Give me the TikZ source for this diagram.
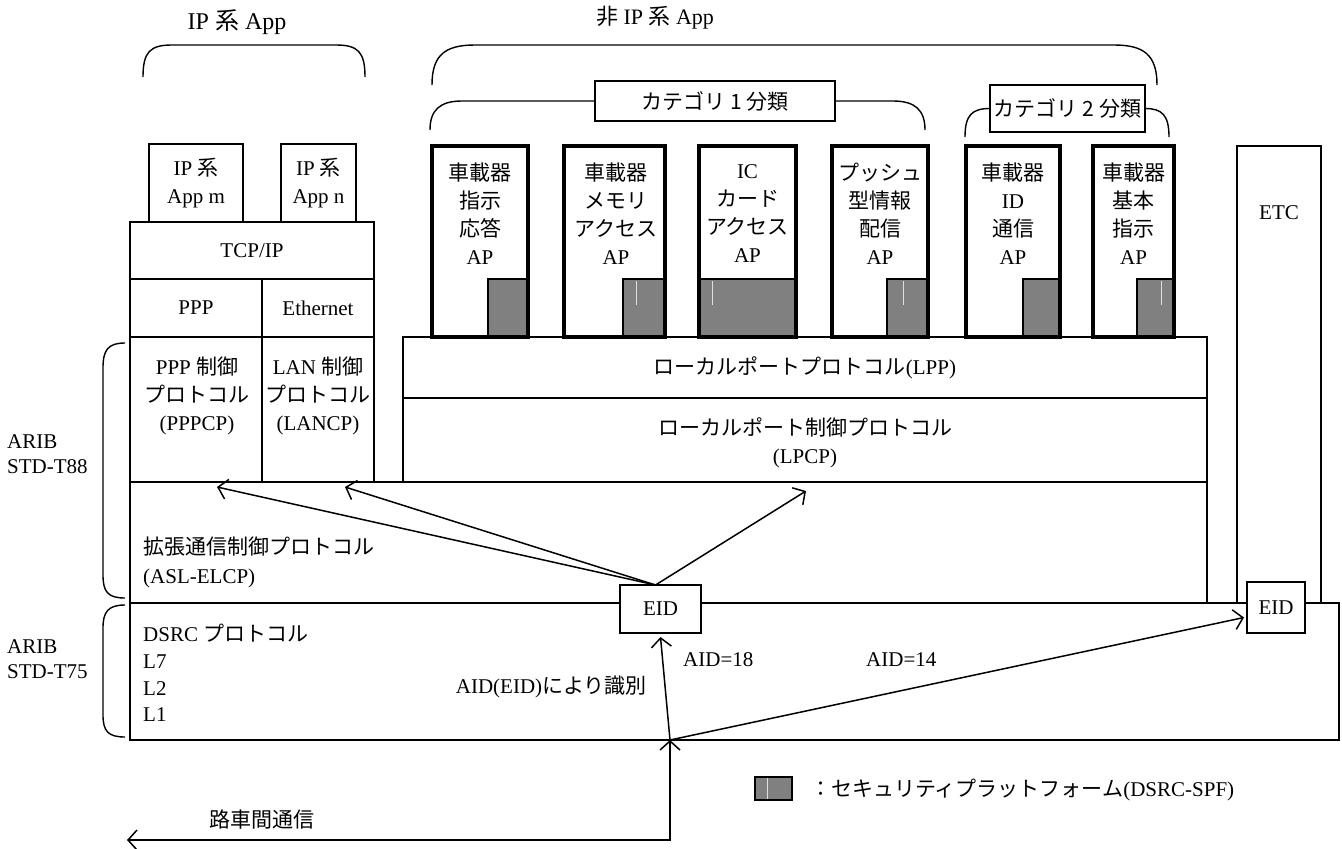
\documentclass[tikz,border=0pt]{standalone}
\usepackage{fontspec}
\setmainfont{Liberation Serif}
\newfontfamily\jp{Noto Sans CJK JP}
\usetikzlibrary{arrows.meta,calc}
\definecolor{spfgray}{RGB}{128,128,128}
\newcommand\mkbox[7]{\node[#6, minimum width={(#4-#2)*1pt}, minimum height={(#5-#3)*1pt}] (#1) at ({(#2+#4)/2},{(#3+#5)/2}) {#7};}
\begin{document}
\begin{tikzpicture}[x=1pt,y=-1pt, font=\fontsize{21}{28}\selectfont,
 bx/.style={draw, line width=1.5pt, fill=white, inner sep=0pt, outer sep=0pt, align=center},
 apb/.style={draw, line width=4pt, fill=white, inner sep=0pt, outer sep=0pt},
 spf/.style={draw, line width=1.5pt, fill=spfgray, inner sep=0pt, outer sep=0pt},
 lbl/.style={inner sep=0pt, align=center},
 lbll/.style={inner sep=0pt, align=left, anchor=west},
 brc/.style={line width=1.4pt},
 arr/.style={line width=1.5pt, -{Straight Barb[length=9pt,width=20pt]}},
 faint/.style={white!75!gray, line width=0.8pt}]
\useasboundingbox[fill=white] (0,0) rectangle (1342,849);

% big layers
\mkbox{asl}{130}{482}{1207}{603}{bx}{}
\mkbox{dsrc}{130}{603}{1339}{740}{bx}{}
\mkbox{etc}{1237}{146}{1321}{603}{bx}{}
\node[lbl] (etct) at (1279,213) {ETC};

% IP stack
\mkbox{appm}{149}{144}{243}{222}{bx}{IP {\jp 系}\\App m}
\mkbox{appn}{281}{144}{356}{222}{bx}{IP {\jp 系}\\App n}
\mkbox{tcp}{130}{222}{374}{279}{bx}{TCP/IP}
\mkbox{ppp}{130}{279}{262}{337}{bx}{PPP}
\mkbox{eth}{262}{279}{374}{337}{bx}{Ethernet}
\mkbox{pppcp}{130}{337}{262}{482}{bx}{}
\mkbox{lancp}{262}{337}{374}{482}{bx}{}
\node[lbl] (pppcpt) at (197,396) {PPP {\jp 制御}\\{\jp プロトコル}\\(PPPCP)};
\node[lbl] (lancpt) at (318,396) {LAN {\jp 制御}\\{\jp プロトコル}\\(LANCP)};

% local port
\mkbox{lpp}{403}{337}{1207}{398}{bx}{}
\node[lbl] (lppt) at (805,368) {{\jp ローカルポートプロトコル}(LPP)};
\mkbox{lpcp}{403}{398}{1207}{482}{bx}{}
\node[lbl] (lpcpt) at (805,443) {{\jp ローカルポート制御プロトコル}\\(LPCP)};

% AP boxes
\mkbox{apa}{432}{146}{528}{337}{apb}{}
\mkbox{spfa}{488}{279}{528}{337}{spf}{}
\draw[line width=4pt] (apa.south west) rectangle (apa.north east);
\node[lbl] (apat) at (480,214) {{\jp 車載器}\\{\jp 指示}\\{\jp 応答}\\AP};

\mkbox{apb}{564}{146}{665}{337}{apb}{}
\mkbox{spfb}{623}{279}{665}{337}{spf}{}
\draw[faint] (636,281) -- (636,305);
\draw[line width=4pt] (apb.south west) rectangle (apb.north east);
\node[lbl] (apbt) at (616,214) {{\jp 車載器}\\{\jp メモリ}\\{\jp アクセス}\\AP};

\mkbox{apc}{699}{146}{796}{337}{apb}{}
\mkbox{spfc}{699}{279}{796}{337}{spf}{}
\draw[faint] (712,281) -- (712,305);
\draw[line width=4pt] (apc.south west) rectangle (apc.north east);
\node[lbl] (apct) at (747.5,214) {IC\\{\jp カード}\\{\jp アクセス}\\AP};

\mkbox{apd}{832}{146}{928}{337}{apb}{}
\mkbox{spfd}{887}{279}{928}{337}{spf}{}
\draw[faint] (903,281) -- (903,305);
\draw[line width=4pt] (apd.south west) rectangle (apd.north east);
\node[lbl] (apdt) at (880,214) {{\jp プッシュ}\\{\jp 型情報}\\{\jp 配信}\\AP};

\mkbox{ape}{966}{146}{1060}{337}{apb}{}
\mkbox{spfe}{1023}{279}{1060}{337}{spf}{}
\draw[line width=4pt] (ape.south west) rectangle (ape.north east);
\node[lbl] (apet) at (1013,214) {{\jp 車載器}\\ID\\{\jp 通信}\\AP};

\mkbox{apf}{1093}{146}{1174}{337}{apb}{}
\mkbox{spff}{1137}{279}{1174}{337}{spf}{}
\draw[faint] (1161,281) -- (1161,305);
\draw[line width=4pt] (apf.south west) rectangle (apf.north east);
\node[lbl] (apft) at (1133.5,214) {{\jp 車載器}\\{\jp 基本}\\{\jp 指示}\\AP};

% titles and braces
\node[lbl, font=\fontsize{24}{28}\selectfont] (tip) at (237,22) {IP {\jp 系} App};
\node[lbl, font=\fontsize{22}{28}\selectfont] (tnon) at (655,18) {{\jp 非} IP {\jp 系} App};
\draw[brc] (143,77) .. controls (143,52) and (150,45) .. (172,45) -- (336,45) .. controls (358,45) and (365,52) .. (365,77);
\draw[brc] (432,85) .. controls (432,55) and (445,45) .. (475,45) -- (1114,45) .. controls (1144,45) and (1157,55) .. (1157,85);
\mkbox{catone}{595}{81}{835}{121}{bx}{{\jp カテゴリ 1 分類}}
\mkbox{cattwo}{990}{85}{1145}{132}{bx}{{\jp カテゴリ 2 分類}}
\draw[brc] (430,130) .. controls (430,110) and (440,101) .. (462,101) -- (catone.west);
\draw[brc] (catone.east) -- (893,101) .. controls (915,101) and (925,110) .. (925,130);
\draw[brc] (965,137) .. controls (965,115) and (972,108.5) .. (cattwo.west);
\draw[brc] (cattwo.east) .. controls (1162,108.5) and (1169,115) .. (1169,137);

% side braces
\draw[brc] (125,343) .. controls (108,343) and (103,350) .. (103,368) -- (103,575) .. controls (103,592) and (108,598) .. (125,598);
\draw[brc] (125,605) .. controls (108,605) and (103,612) .. (103,628) -- (103,715) .. controls (103,731) and (108,737) .. (125,737);
\node[lbll, font=\fontsize{21}{25}\selectfont] (t88) at (7,454.5) {ARIB\\STD-T88};
\node[lbll, font=\fontsize{21}{25}\selectfont] (t75) at (7,659.5) {ARIB\\STD-T75};

% texts in ASL / DSRC
\node[lbll, font=\fontsize{21}{29}\selectfont] (aslt) at (143,562.5) {{\jp 拡張通信制御プロトコル}\\(ASL-ELCP)};
\node[lbll, font=\fontsize{21}{26.7}\selectfont] (dsrct) at (143,673) {DSRC {\jp プロトコル}\\L7\\L2\\L1};
\node[inner sep=0pt, anchor=west] (aid18) at (683,660) {AID=18};
\node[inner sep=0pt, anchor=west] (aid14) at (866,660) {AID=14};
\node[inner sep=0pt, anchor=east] (aidt) at (647,687) {AID(EID){\jp により識別}};

% EID arrows
\coordinate (pin) at (217,487);
\coordinate (lin) at (345,487);
\coordinate (lpin) at (806,491);
\coordinate (j) at (670,740);
\coordinate (road) at (127,840);
\mkbox{eid}{620}{585}{701}{633}{bx}{EID}
\mkbox{eidb}{1247}{582}{1305}{633}{bx}{EID}
\draw[arr] ([xshift=-5pt]eid.north) -- (pin);
\draw[arr] ([xshift=-5pt]eid.north) -- (lin);
\draw[arr] ([xshift=-5pt]eid.north) -- (lpin);
\draw[arr] (j) -- ([yshift=-4pt]eid.south);
\draw[arr] (j) -- ([xshift=-3pt,yshift=-10pt]eidb.west);
\draw[line width=1.5pt, {Straight Barb[length=9pt,width=20pt]}-{Straight Barb[length=9pt,width=20pt]}] (road) -| (j);
\node[lbl] (rsc) at (262,820) {{\jp 路車間通信}};

% legend
\mkbox{leg}{755}{777}{792}{800}{spf}{}
\draw[faint] (767,778) -- (767,799);
\node[inner sep=0pt, anchor=west] (legt) at (810,790) {{\jp ：セキュリティプラットフォーム}(DSRC-SPF)};
\end{tikzpicture}
\end{document}
